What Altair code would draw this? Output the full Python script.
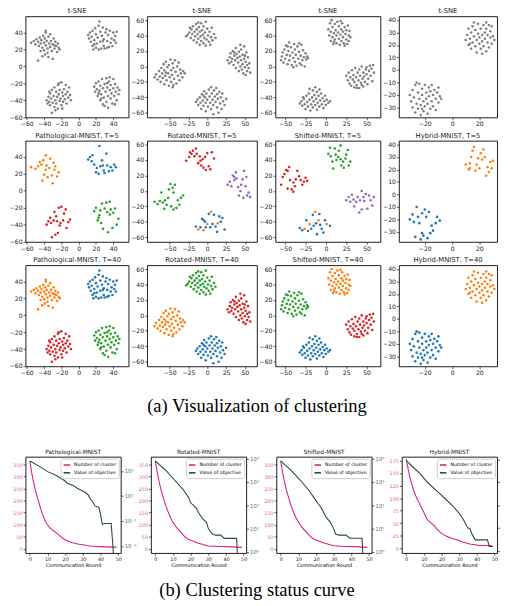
import altair as alt
import pandas as pd

GRAY = "#7f7f7f"
BLUE, ORANGE, GREEN, RED, PURPLE = "#1f77b4", "#ff7f0e", "#2ca02c", "#d62728", "#9467bd"
MAG = "#dd1c8a"
MAG_LAB = "#e0589f"
DKGREEN = "#24502a"
GREEN_LAB = "#4f7d4f"

# ---------------- t-SNE cluster points ----------------
# Pathological-MNIST embedding
PATH_TL = [(-55,28),(-52,30),(-50,26),(-49,32),(-47,29),(-46,24),(-45,34),(-44,27),(-43,31),(-42,22),(-41,36),(-40,28),(-40,19),(-39,33),(-38,25),(-38,40),(-37,30),(-36,21),(-36,16),(-35,35),(-34,27),(-33,23),(-33,38),(-32,30),(-31,18),(-30,26),(-29,33),(-28,21),(-27,29),(-26,24),(-25,17),(-24,27),(-23,22),(-22,20),(-38,42),(-47,7),(-42,12),(-35,11),(-30,9),(-44,18),(-28,25),(-39,14)]
PATH_TR = [(11,37),(12,33),(13,40),(14,29),(15,35),(16,24),(16,42),(17,20),(18,31),(19,45),(20,22),(20,38),(21,27),(22,34),(23,20),(23,48),(24,53),(25,41),(25,29),(26,21),(27,36),(28,46),(29,24),(29,32),(30,21),(31,40),(32,44),(33,22),(33,30),(34,37),(35,23),(36,42),(37,28),(38,33),(39,24),(40,40),(41,31),(42,36),(43,28),(44,41),(28,30),(18,26)]
PATH_BL = [(-37,-40),(-36,-44),(-35,-36),(-34,-42),(-33,-32),(-33,-46),(-32,-38),(-31,-28),(-31,-55),(-30,-43),(-29,-35),(-28,-48),(-28,-25),(-27,-40),(-26,-30),(-26,-44),(-25,-36),(-24,-22),(-24,-50),(-23,-33),(-22,-41),(-22,-28),(-21,-38),(-20,-46),(-20,-19),(-19,-31),(-18,-35),(-18,-42),(-17,-27),(-16,-39),(-15,-22),(-15,-33),(-14,-44),(-13,-30),(-12,-37),(-11,-25),(-10,-34),(-9,-40),(-27,-52),(-34,-30),(-23,-20),(-19,-50)]
PATH_BR = [(18,-24),(19,-30),(20,-20),(21,-27),(22,-35),(23,-18),(24,-29),(25,-40),(25,-23),(26,-33),(27,-15),(28,-26),(28,-45),(29,-37),(30,-21),(31,-30),(32,-14),(32,-42),(33,-25),(34,-35),(34,-49),(35,-18),(36,-28),(37,-38),(37,-22),(38,-32),(39,-44),(40,-15),(40,-26),(41,-35),(42,-21),(43,-30),(44,-40),(45,-25),(46,-33),(47,-28),(36,-13),(30,-47),(26,-38),(42,-45),(23,-32),(33,-20)]

# Rotated-MNIST embedding
ROT_T = [(-28,39),(-26,41),(-24,44),(-22,37),(-21,48),(-20,42),(-19,52),(-18,34),(-17,45),(-16,39),(-15,55),(-14,31),(-14,48),(-13,42),(-12,36),(-11,51),(-10,45),(-10,28),(-9,39),(-8,56),(-8,33),(-7,47),(-6,41),(-5,52),(-5,30),(-4,37),(-3,44),(-2,58),(-2,27),(-1,35),(0,49),(1,40),(2,32),(3,45),(4,28),(5,38),(6,50),(7,34),(9,42),(11,37),(-23,50),(-12,57)]
ROT_R = [(27,8),(29,4),(30,12),(31,17),(32,6),(33,10),(34,20),(35,2),(36,14),(37,8),(38,24),(38,-2),(39,16),(40,11),(41,5),(42,19),(42,-6),(43,13),(44,0),(45,22),(45,8),(46,-4),(47,15),(47,3),(48,-9),(49,10),(49,26),(50,-1),(51,6),(51,-11),(52,18),(53,2),(53,-6),(54,12),(55,-2),(56,4),(57,-8),(44,28),(36,18),(50,14)]
ROT_L = [(-70,-14),(-68,-10),(-66,-17),(-64,-6),(-63,-13),(-62,-20),(-61,-2),(-60,-9),(-59,-15),(-58,3),(-57,-23),(-57,-5),(-56,-12),(-55,6),(-54,-18),(-53,-1),(-52,-9),(-51,-25),(-51,2),(-50,-14),(-49,9),(-48,-5),(-48,-20),(-47,-11),(-46,4),(-46,-27),(-45,-2),(-44,-16),(-43,8),(-42,-7),(-41,-22),(-40,0),(-39,-12),(-38,5),(-37,-18),(-36,-4),(-35,-9),(-33,-14),(-32,-6),(-30,-9),(-45,-24),(-55,-8)]
ROT_B = [(-15,-46),(-13,-43),(-12,-50),(-10,-40),(-9,-47),(-8,-55),(-7,-36),(-6,-44),(-5,-51),(-4,-32),(-3,-40),(-2,-58),(-2,-47),(-1,-35),(0,-43),(1,-52),(2,-30),(3,-39),(4,-47),(5,-55),(5,-27),(6,-35),(7,-43),(8,-50),(9,-31),(10,-39),(11,-46),(12,-28),(13,-53),(13,-36),(14,-42),(15,-60),(16,-33),(17,-48),(18,-40),(19,-55),(20,-35),(21,-45),(23,-50),(25,-42),(-5,-38),(8,-62)]

# Shifted-MNIST embedding
SHF_L = [(-55,8),(-54,13),(-53,18),(-52,5),(-51,22),(-50,10),(-49,27),(-48,15),(-47,3),(-46,20),(-45,31),(-45,8),(-44,14),(-43,25),(-42,2),(-41,18),(-40,11),(-39,29),(-38,6),(-38,22),(-37,15),(-36,1),(-35,26),(-34,10),(-33,19),(-32,4),(-31,14),(-30,28),(-29,8),(-28,21),(-27,12),(-26,0),(-25,17),(-24,9),(-23,13),(-22,11),(-47,26),(-33,30),(-40,-1),(-30,2)]
SHF_T = [(3,48),(4,40),(5,56),(6,33),(6,45),(7,60),(8,38),(8,51),(9,29),(10,43),(11,55),(11,35),(12,47),(13,30),(13,40),(14,58),(15,44),(16,36),(16,52),(17,28),(18,41),(19,48),(19,33),(20,56),(21,38),(21,45),(22,30),(23,51),(24,42),(25,35),(25,47),(26,29),(27,53),(28,40),(28,33),(29,46),(30,38),(10,32),(18,59),(23,27)]
SHF_R = [(25,-12),(27,-18),(28,-8),(29,-22),(30,-14),(31,-25),(32,-5),(33,-17),(34,-11),(35,-27),(35,-20),(36,-2),(37,-14),(38,-24),(39,-8),(40,-18),(41,-28),(41,-4),(42,-12),(43,-21),(44,0),(45,-16),(46,-8),(46,-26),(47,-13),(48,-20),(49,-4),(50,-10),(51,-23),(52,-16),(53,-6),(54,1),(55,-12),(56,-3),(57,-19),(58,2),(59,-8),(38,-28),(44,-24),(50,-1)]
SHF_B = [(-32,-48),(-30,-45),(-29,-51),(-27,-42),(-26,-49),(-25,-55),(-24,-38),(-23,-46),(-22,-52),(-21,-35),(-20,-43),(-19,-57),(-18,-49),(-17,-40),(-16,-31),(-16,-53),(-15,-45),(-14,-37),(-13,-27),(-13,-50),(-12,-42),(-11,-33),(-11,-56),(-10,-47),(-9,-38),(-8,-52),(-7,-44),(-6,-35),(-5,-49),(-4,-41),(-3,-54),(-2,-45),(-1,-38),(0,-50),(1,-43),(3,-47),(5,-45),(-20,-29),(-8,-30),(-28,-40)]

# Hybrid-MNIST embedding
HYB_TR = [(10,24),(11,28),(12,20),(12,33),(13,25),(14,17),(14,30),(15,22),(15,35),(16,27),(17,19),(17,32),(18,24),(18,14),(19,29),(19,37),(20,21),(20,26),(21,33),(21,17),(22,28),(22,23),(23,36),(23,19),(24,30),(24,25),(25,15),(25,33),(26,22),(26,28),(27,18),(27,36),(28,26),(28,31),(29,21),(29,35),(30,27),(31,24),(16,38),(22,13),(13,21),(25,38)]
HYB_BL = [(-31,-20),(-30,-25),(-29,-16),(-29,-30),(-28,-22),(-27,-12),(-27,-34),(-26,-27),(-25,-18),(-25,-31),(-24,-23),(-24,-11),(-23,-36),(-23,-28),(-22,-15),(-22,-20),(-21,-33),(-21,-25),(-20,-12),(-20,-29),(-19,-18),(-19,-23),(-18,-35),(-18,-27),(-17,-14),(-17,-21),(-16,-31),(-16,-17),(-15,-25),(-14,-20),(-14,-29),(-13,-16),(-12,-23),(-12,-32),(-11,-18),(-10,-26),(-9,-21),(-8,-23),(-26,-10),(-15,-12),(-22,-31),(-10,-14)]

# indices (within the T=5 subsample) of the mixed-in orange points
ROT_T5_ORANGE = [1, 4, 7, 10, 15]
SHF_T5_ORANGE = [2, 5, 9, 12, 17]

# axis settings per column
COL_XDOM = [[-61.5, 57.7], [-80, 66], [-62, 67], [-39, 33]]
COL_YDOM = [[-60.4, 59.2], [-66, 65], [-66, 65], [-38, 43]]
COL_XT = [[-60, -40, -20, 0, 20, 40], [-50, -25, 0, 25, 50], [-50, -25, 0, 25, 50], [-20, 0, 20]]
COL_YT = [[-60, -40, -20, 0, 20, 40], [-60, -40, -20, 0, 20, 40, 60], [-60, -40, -20, 0, 20, 40, 60], [-30, -20, -10, 0, 10, 20, 30, 40]]
COL_W = [106, 113, 108, 101]
PANEL_H = 104

# ---------------- clustering status curves ----------------
ROUNDS_CL = [0,1,2,3,4,5,6,7,8,9,10,11,12,13,14,15,16,17,18,19,20,21,22,23,24,25,26,27,28,29,30,32,34,36,38,40,42,44,46,48,49]
PATH_CL = [365,318,280,248,220,196,170,148,128,112,100,90,83,77,72,66,60,54,48,42,37,34,31,28,25,24,22,20,19,18,17,14,12,11,10,9,8,8,7,7,7]
ROT_CL = [365,322,285,252,226,200,178,158,140,124,110,99,89,80,72,64,56,48,42,39,36,33,30,27,24,22,20,18,16,14,12,11,11,10,10,9,8,8,7,6,6]
SHF_CL = [365,320,282,250,224,199,176,156,139,124,111,100,90,81,73,65,57,50,44,40,37,34,31,28,25,23,21,19,17,15,13,12,11,10,10,9,9,8,7,6,6]
HYB_CL_R = [0,1,2,3,4,5,6,7,8,9,10,11,12,13,14,15,16,17,18,19,20,22,24,26,28,30,32,34,36,38,40,41,44,46,48,49]
HYB_CL = [178,160,143,130,118,108,100,93,86,79,72,64,57,54,51,48,45,40,36,33,30,26,23,20,18,16,13,11,9,8,7,6,6,6,6,3]

# objective: log10 of the value
PATH_OBJ_R = [0,5,10,15,20,21,25,27,30,32,33,34,35,36,37,39,40,41,42,46,47,48]
PATH_OBJ_E = [3.80,3.41,2.95,2.64,2.20,2.04,1.81,1.60,1.40,1.22,1.09,0.83,0.62,0.44,0.19,0.11,-0.46,-1.29,-1.19,-1.19,-3.0,-6.0]
ROT_OBJ_R = [0,6,11,16,19,20,23,25,27,29,30,32,34,37,39,46,47]
ROT_OBJ_E = [3.90,3.49,3.07,2.65,2.31,2.10,1.89,1.61,1.40,1.26,0.99,0.78,0.71,0.71,0.57,0.57,-1.0]
SHF_OBJ_R = [0,6,11,16,19,21,23,25,26,28,30,31,33,37,39,46,47]
SHF_OBJ_E = [3.90,3.48,3.08,2.63,2.30,2.08,1.88,1.58,1.45,1.27,0.98,0.76,0.71,0.71,0.58,0.58,-1.0]
HYB_OBJ_R = [0,4,8,12,15,19,23,26,30,32,34,35,36,37,39,40,46,47,49]
HYB_OBJ_E = [3.97,3.67,3.38,3.01,2.80,2.51,2.22,2.00,1.64,1.42,1.13,0.99,0.99,0.77,0.48,0.48,0.48,0.19,0.19]

LINE_TITLES = ["Pathological-MNIST", "Rotated-MNIST", "Shifted-MNIST", "Hybrid-MNIST"]
SERIES = ["Number of cluster", "Value of objective"]
CAPTION_A = "(a)  Visualization of clustering"
CAPTION_B = "(b)  Clustering status curve"

SUP = {"0": "⁰", "1": "¹", "2": "²", "3": "³", "4": "⁴", "-": "⁻"}


def make_df(groups):
    xs, ys, cs = [], [], []
    for pts, col in groups:
        for i, (x, y) in enumerate(pts):
            xs.append(x)
            ys.append(y)
            cs.append(col[i] if isinstance(col, list) else col)
    return pd.DataFrame({"x": xs, "y": ys, "c": cs})


def scatter(groups, title, col):
    df = make_df(groups)
    return alt.Chart(df).mark_circle(size=7, opacity=1).encode(
        x=alt.X("x:Q", scale=alt.Scale(domain=COL_XDOM[col], nice=False, zero=False),
                axis=alt.Axis(values=COL_XT[col], title=None, format="d")),
        y=alt.Y("y:Q", scale=alt.Scale(domain=COL_YDOM[col], nice=False, zero=False),
                axis=alt.Axis(values=COL_YT[col], title=None, format="d")),
        color=alt.Color("c:N", scale=None),
    ).properties(width=COL_W[col], height=PANEL_H, title=title)


def mixed(n, idx):
    return [ORANGE if i in idx else BLUE for i in range(n)]


COLS = [
    ("Pathological-MNIST", [PATH_TL, PATH_TR, PATH_BL, PATH_BR]),
    ("Rotated-MNIST", [ROT_T, ROT_R, ROT_L, ROT_B]),
    ("Shifted-MNIST", [SHF_L, SHF_T, SHF_R, SHF_B]),
    ("Hybrid-MNIST", [HYB_TR, HYB_BL]),
]
T5_COLORS = [
    [ORANGE, BLUE, RED, GREEN],
    [RED, PURPLE, GREEN, mixed(len(ROT_B[::2]), ROT_T5_ORANGE)],
    [RED, GREEN, PURPLE, mixed(len(SHF_B[::2]), SHF_T5_ORANGE)],
    [ORANGE, BLUE],
]
T40_COLORS = [
    [ORANGE, BLUE, RED, GREEN],
    [GREEN, RED, ORANGE, BLUE],
    [GREEN, ORANGE, RED, BLUE],
    [ORANGE, BLUE],
]

row1 = [scatter([(p, GRAY) for p in cl], "t-SNE", i) for i, (name, cl) in enumerate(COLS)]
row2 = [scatter([(p[::2], c) for p, c in zip(cl, T5_COLORS[i])], f"{name}, T=5", i)
        for i, (name, cl) in enumerate(COLS)]
row3 = [scatter([(p, c) for p, c in zip(cl, T40_COLORS[i])], f"{name}, T=40", i)
        for i, (name, cl) in enumerate(COLS)]


def sup_expr(exps):
    expr = "''"
    for e in exps:
        lab = "10" + "".join(SUP[ch] for ch in str(e))
        expr = f"round(log(datum.value)/LN10) == {e} ? '{lab}' : ({expr})"
    return expr


def line_panel(title, cl_r, cl_v, ob_r, ob_e, ldom, lticks, rdom, rticks, rlabels=True):
    df1 = pd.DataFrame({"round": cl_r, "v": cl_v, "s": SERIES[0]})
    df2 = pd.DataFrame({"round": ob_r, "v": [10 ** e for e in ob_e], "s": SERIES[1]})
    color = alt.Color("s:N", scale=alt.Scale(domain=SERIES, range=[MAG, DKGREEN]),
                      legend=alt.Legend(orient="top-right", title=None, labelFontSize=4.8,
                                        symbolType="stroke", symbolStrokeWidth=1.6, symbolSize=45,
                                        fillColor="white", strokeColor="#cccccc", padding=2,
                                        offset=2, rowPadding=0, labelOffset=3, cornerRadius=2,
                                        labelFont="DejaVu Sans"))
    x = alt.X("round:Q", scale=alt.Scale(domain=[-2.45, 51.45], nice=False, zero=False),
              axis=alt.Axis(values=[0, 10, 20, 30, 40, 50], title="Communication Round",
                            titleFontSize=5, titleFontWeight="normal", titlePadding=1,
                            labelFontSize=5, titleFont="DejaVu Sans"))
    l1 = alt.Chart(df1).mark_line(strokeWidth=1.1, clip=True).encode(
        x=x,
        y=alt.Y("v:Q", scale=alt.Scale(domain=ldom, nice=False, zero=False),
                axis=alt.Axis(values=lticks, title=None, orient="left", labelColor=MAG_LAB,
                              labelFontSize=5)),
        color=color)
    raxis = dict(values=[10 ** k for k in rticks], title=None, orient="right",
                 labelColor=GREEN_LAB, labelFontSize=5.5, labelExpr=sup_expr(rticks))
    if not rlabels:
        raxis["labels"] = False
    l2 = alt.Chart(df2).mark_line(strokeWidth=1.1, clip=True).encode(
        x=x,
        y=alt.Y("v:Q", scale=alt.Scale(type="log", domain=[10 ** rdom[0], 10 ** rdom[1]], nice=False),
                axis=alt.Axis(**raxis)),
        color=color)
    return alt.layer(l1, l2).resolve_scale(y="independent").properties(
        width=98, height=99, title=alt.TitleParams(title, fontSize=6))


LTICKS = [0, 50, 100, 150, 200, 250, 300, 350]
lines = [
    line_panel(LINE_TITLES[0], ROUNDS_CL, PATH_CL, PATH_OBJ_R, PATH_OBJ_E, [-17.5, 382], LTICKS,
               [-3.56, 4.14], [3, 1, -1, -3]),
    line_panel(LINE_TITLES[1], ROUNDS_CL, ROT_CL, ROT_OBJ_R, ROT_OBJ_E, [-17.5, 382], LTICKS,
               [-0.06, 4.08], [0, 1, 2, 3, 4]),
    line_panel(LINE_TITLES[2], ROUNDS_CL, SHF_CL, SHF_OBJ_R, SHF_OBJ_E, [-17.5, 382], LTICKS,
               [-0.06, 4.08], [0, 1, 2, 3, 4]),
    line_panel(LINE_TITLES[3], HYB_CL_R, HYB_CL, HYB_OBJ_R, HYB_OBJ_E, [-9, 182],
               [0, 25, 50, 75, 100, 125, 150, 175], [-0.1, 4.13], [0, 1, 2, 3, 4], rlabels=False),
]

NOFRAME = alt.ViewBackground(stroke="transparent", strokeWidth=0)


def caption(text, h, ty):
    return alt.Chart(pd.DataFrame({"t": [text]})).mark_text(
        font="Liberation Serif", fontSize=19, align="center", baseline="middle", color="black"
    ).encode(text="t:N", x=alt.value(238), y=alt.value(ty)).properties(
        width=470, height=h, view=NOFRAME)


def hrow(panels, spacing):
    return alt.hconcat(*panels, spacing=spacing, bounds="flush")


scatter_block = alt.vconcat(hrow(row1, 19), hrow(row2, 19), hrow(row3, 19), spacing=3)

chart = alt.vconcat(
    scatter_block,
    caption(CAPTION_A, 73, 30),
    hrow(lines, 31).resolve_scale(color="independent").resolve_legend(color="independent"),
    caption(CAPTION_B, 30, 23),
    spacing=0,
).properties(
    padding={"left": 0, "top": -10, "right": 0, "bottom": 0}
).configure_view(stroke="black", strokeWidth=0.9).configure_axis(
    domain=False, grid=False, tickColor="black", tickSize=2.5, tickWidth=0.6,
    labelFontSize=6.3, labelFont="DejaVu Sans", labelColor="#222222", labelPadding=1,
    labelFlush=False, labelOverlap=False,
).configure_title(font="DejaVu Sans", fontSize=7, fontWeight="normal", offset=2, color="#222222")

chart.save("out.html", embed_options={"renderer": "svg", "actions": False})
